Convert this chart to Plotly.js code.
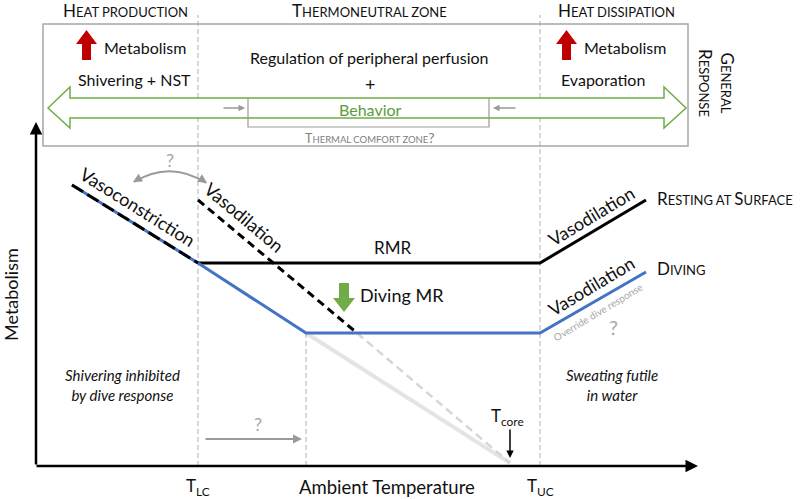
<!DOCTYPE html>
<html><head><meta charset="utf-8">
<script src="https://cdn.plot.ly/plotly-3.0.1.min.js"></script>
<style>html,body{margin:0;padding:0;background:#fff}#chart{width:800px;height:499px}</style>
</head><body><div id="chart"></div>
<script>
// ---- Data (schematic: ambient temperature vs metabolism, arbitrary units) ----
const T_LC = 162, T_TN = 270, T_UC = 504, T_CORE = 474;
const restX = [162, 504, 610];          // resting at surface (RMR)
const restY = [203, 203, 266];
const diveX = [36, 162, 270, 504, 610]; // diving
const diveY = [281, 203, 133, 133, 194];
const vasoconX = [36, 162];             // vasoconstriction (resting)
const vasoconY = [281, 203];
const vasodilX = [162, 321];            // vasodilation (diving, cold)
const vasodilY = [266, 133];
const vasodilExtX = [321, 474];
const vasodilExtY = [133, 3];
const diveExtX = [270, 474];
const diveExtY = [133, 3];
const zoneTicks = ['T<sub>LC</sub>', 'T<sub>UC</sub>'];

const FONT = "Lato, 'Open Sans', sans-serif";
const BLUE = '#4472C4', GREEN = '#70AD47', RED = '#C00000', GRAY = '#9a9a9a';

function sc(first, rest, small){ small = small || 13; return first + '<span style="font-size:'+small+'px">' + rest + '</span>'; }

const traces = [
  {x: diveExtX, y: diveExtY, mode:'lines', line:{color:'#e4e4e4', width:4}},
  {x: vasodilExtX, y: vasodilExtY, mode:'lines', line:{color:'#d6d6d6', width:2.5, dash:'8px,5px'}},
  {x: [T_TN, T_TN], y:[0,133], mode:'lines', line:{color:'#b0b0b0', width:1, dash:'5px,3px'}},
  {x: [T_LC, T_LC], y:[0,451], mode:'lines', line:{color:'#b0b0b0', width:1, dash:'5px,3px'}},
  {x: [T_UC, T_UC], y:[0,451], mode:'lines', line:{color:'#b0b0b0', width:1, dash:'5px,3px'}},
  {x: restX, y: restY, mode:'lines', line:{color:'#000', width:3}},
  {x: diveX, y: diveY, mode:'lines', line:{color:BLUE, width:3}},
  {x: vasoconX, y: vasoconY, mode:'lines', line:{color:'#000', width:3, dash:'13px,5px'}},
  {x: vasodilX, y: vasodilY, mode:'lines', line:{color:'#000', width:3, dash:'8px,5px'}},
];

const shapes = [
  // top box
  {type:'rect', xref:'x', yref:'y', x0:7, x1:652, y0:320, y1:442, line:{color:'#a6a6a6', width:1.5}},
  // green double arrow (outline)
  {type:'path', xref:'x', yref:'y', path:'M12,358 L34,379 L34,368 L628,368 L628,379 L650,358 L628,338 L628,348 L34,348 L34,338 Z', fillcolor:'#fff', line:{color:GREEN, width:1.5}},
  // comfort-zone bracket
  {type:'path', xref:'x', yref:'y', path:'M212,368 L212,339 L453,339 L453,368', line:{color:GRAY, width:1.2}},
  // red up arrows
  {type:'path', xref:'x', yref:'y', path:'M50.5,436 L61,422 L55,422 L55,406 L46,406 L46,422 L40,422 Z', fillcolor:RED, line:{width:0}},
  {type:'path', xref:'x', yref:'y', path:'M530.5,436 L541,422 L535,422 L535,406 L526,406 L526,422 L520,422 Z', fillcolor:RED, line:{width:0}},
  // green down arrow
  {type:'path', xref:'x', yref:'y', path:'M308,154 L319,168 L313,168 L313,183 L303,183 L303,168 L297,168 Z', fillcolor:GREEN, line:{width:0}},
  // curved '?' arrow
  {type:'path', xref:'x', yref:'y', path:'M98,284 Q134,306 170,283', line:{color:GRAY, width:1.8}},
];

function arrow(x, y, ax, ay, color, width, head, size){
  return {x:x, y:y, ax:ax, ay:ay, xref:'x', yref:'y', axref:'x', ayref:'y', text:'', showarrow:true,
          arrowhead:head, arrowsize:size, arrowwidth:width, arrowcolor:color, standoff:0, startstandoff:0};
}
function txt(x, y, text, size, opts){
  return Object.assign({x:x, y:y, xref:'x', yref:'y', text:text, showarrow:false,
    font:{family:FONT, size:size, color:'#111'}}, opts||{});
}

const ann = [
  // axes
  arrow(0, 344, 0, 0, '#000', 2.5, 2, 1),
  arrow(662, 0, -1, 0, '#000', 2.5, 2, 1),
  // small arrows
  arrow(209, 358, 186, 358, GRAY, 1.3, 2, 1),
  arrow(457, 358, 481, 358, GRAY, 1.3, 2, 1),
  arrow(266, 27, 168, 27, GRAY, 1.8, 2, 1),
  arrow(474, 8, 474, 38, '#000', 1.5, 2, 1),
  arrow(97, 284, 104, 288, GRAY, 1.8, 2, 1),
  arrow(171, 283, 165, 287, GRAY, 1.8, 2, 1),
  // headers
  txt(89, 456, sc('H','EAT PRODUCTION'), 17),
  txt(333, 456, sc('T','HERMONEUTRAL ZONE'), 17),
  txt(580, 456, sc('H','EAT DISSIPATION'), 17),
  txt(681, 383, sc('G','ENERAL') + '<br>' + sc('R','ESPONSE'), 17, {textangle:90}),
  // box contents
  txt(66, 419, 'Metabolism', 16, {xanchor:'left'}),
  txt(98, 387, 'Shivering + NST', 16),
  txt(333, 409, 'Regulation of peripheral perfusion', 16),
  txt(334, 382, '+', 18),
  txt(546, 419, 'Metabolism', 16, {xanchor:'left'}),
  txt(567, 387, 'Evaporation', 16),
  txt(334, 357, 'Behavior', 16, {font:{family:FONT,size:16,color:'#5e9a3c'}}),
  txt(334, 329, sc('T','HERMAL COMFORT ZONE', 9.5) + '<span style="font-size:14px">?</span>', 12.5, {font:{family:FONT,size:12.5,color:'#808080'}}),
  // chart labels
  txt(102, 259, 'Vasoconstriction', 18, {textangle:32}),
  txt(208, 249, 'Vasodilation', 18, {textangle:40}),
  txt(555, 250, 'Vasodilation', 18, {textangle:-31}),
  txt(555, 180, 'Vasodilation', 18, {textangle:-31}),
  txt(562, 154, 'Override dive response', 10, {textangle:-31, font:{family:FONT,size:10,color:'#a6a6a6'}}),
  txt(577, 139, '?', 20, {font:{family:FONT,size:20,color:'#a6a6a6'}}),
  txt(134, 306, '?', 18, {font:{family:FONT,size:18,color:'#a6a6a6'}}),
  txt(222, 42, '?', 18, {font:{family:FONT,size:18,color:'#a6a6a6'}}),
  txt(356, 219, 'RMR', 17),
  txt(322, 171, 'Diving MR', 18, {xanchor:'left'}),
  txt(619, 268, sc('R','ESTING AT ') + 'S' + '<span style="font-size:13px">URFACE</span>', 17, {xanchor:'left'}),
  txt(619, 198, sc('D','IVING'), 17, {xanchor:'left'}),
  txt(86, 81, '<i>Shivering inhibited<br>by dive response</i>', 15),
  txt(576, 81, '<i>Sweating futile<br>in water</i>', 15),
  txt(471, 49, 'T<sub>core</sub>', 17),
  txt(T_LC, -21, zoneTicks[0], 17),
  txt(T_UC, -21, zoneTicks[1], 17),
  txt(351, -21, 'Ambient Temperature', 18.5),
  txt(-25, 171, 'Metabolism', 18),
];
ann[ann.length-1].textangle = -90;

const layout = {
  width:800, height:499, margin:{l:0,r:0,t:0,b:0},
  paper_bgcolor:'#fff', plot_bgcolor:'#fff', showlegend:false,
  xaxis:{range:[-36,764], visible:false, fixedrange:true},
  yaxis:{range:[-33,466], visible:false, fixedrange:true},
  shapes:shapes, annotations:ann, font:{family:FONT}
};
Plotly.newPlot('chart', traces.map(t=>Object.assign({showlegend:false, hoverinfo:'skip'}, t)), layout, {staticPlot:true});
</script></body></html>
